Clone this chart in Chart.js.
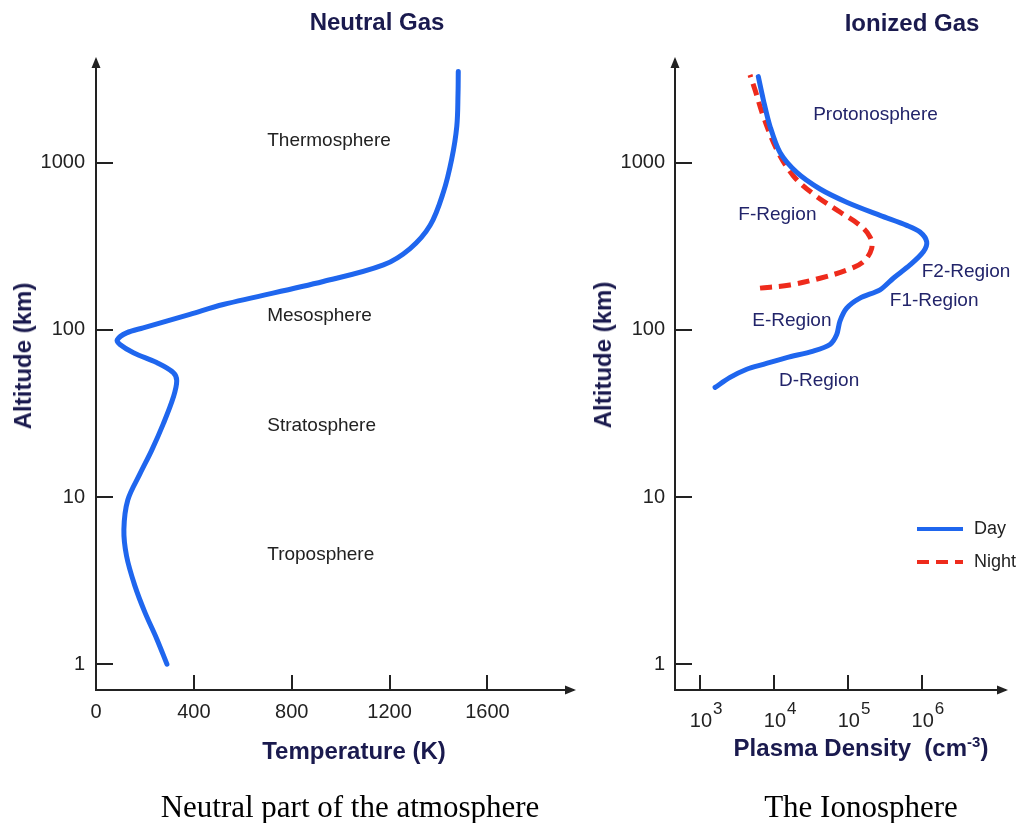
<!DOCTYPE html>
<html>
<head>
<meta charset="utf-8">
<title>Neutral Gas and Ionized Gas profiles</title>
<script src="https://cdn.jsdelivr.net/npm/chart.js@4.4.1/dist/chart.umd.min.js"></script>
<style>
  html, body { margin: 0; padding: 0; background: #fff; }
  #wrap { position: relative; width: 1020px; height: 823px; overflow: hidden; background: #fff; }
  canvas { position: absolute; top: 0; }
  .head { position: absolute; white-space: nowrap; font-family: "Liberation Sans", Arial, sans-serif;
          font-weight: bold; font-size: 24px; line-height: 1; color: #1a1a4e;
          transform: translate(-50%, -50%); }
  .head.rot { transform: translate(-50%, -50%) rotate(-90deg); }
  .head sup { font-size: 15px; vertical-align: 9px; line-height: 0; }
  .cap { position: absolute; white-space: nowrap; font-family: "Liberation Serif", "Times New Roman", serif;
         font-size: 31px; line-height: 1; color: #000; transform: translate(-50%, -50%); }
</style>
</head>
<body>
<div id="wrap">
  <canvas id="neutral" width="580" height="823" style="left:0"></canvas>
  <canvas id="ionized" width="440" height="823" style="left:580px"></canvas>

  <div class="head" style="left:377px; top:22px">Neutral Gas</div>
  <div class="head" style="left:912px; top:23px">Ionized Gas</div>
  <div class="head rot" style="left:23px; top:356px">Altitude (km)</div>
  <div class="head rot" style="left:603px; top:355px">Altitude (km)</div>
  <div class="head" style="left:354px; top:751px">Temperature (K)</div>
  <div class="head" style="left:861px; top:748px">Plasma Density&nbsp;&nbsp;(cm<sup>-3</sup>)</div>

  <div class="cap" style="left:350px; top:806px">Neutral part of the atmosphere</div>
  <div class="cap" style="left:861px; top:806px">The Ionosphere</div>
</div>

<script>
// ---- Tick values --------------------------------------------------------
const altitudeTicks = [1, 10, 100, 1000];
const temperatureTicks = [0, 400, 800, 1200, 1600];
const densityTicks = [1e3, 1e4, 1e5, 1e6];

// ---- Neutral atmosphere: temperature profile -----------------------------
const neutralAltitudeKm = [1.0, 1.42, 2.04, 2.94, 4.43, 6.39, 9.6, 13.8, 19.1,
  27.4, 39.5, 49.7, 55.6, 63.8, 73.1, 81.9, 87.4, 96.1, 103,
  124, 142, 195, 245, 307, 423, 667, 1052, 1659, 2620, 3518];
const neutralTemperatureK = [290, 248, 200, 159, 125, 114, 130, 180, 228,
  275, 316, 330, 316, 248, 153, 98, 87, 125, 193,
  384, 520, 929, 1175, 1284, 1366, 1420, 1454, 1475, 1480, 1481];

// ---- Ionosphere: plasma density profiles (cm^-3) -------------------------
const dayAltitudeKm = [45.3, 52.0, 58.2, 62.3, 68.3, 74.8, 81.9, 93.9, 113, 135,
  155, 174, 204, 245, 294, 337, 386, 423, 485, 582,
  698, 877, 1153, 1659, 2389, 3286];
const dayDensity = [1600, 2550, 4290, 7190, 14900, 34100, 57400, 70800, 78300, 96600,
  146000, 273000, 413000, 695000, 1052000, 1169000, 948000, 627000, 273000, 96600,
  42100, 20400, 12100, 8850, 7190, 6150];

const nightAltitudeKm = [178, 186, 204, 228, 256, 307, 360, 423, 508, 652,
  837, 1206, 1901, 2739, 3363];
const nightDensity = [6490, 16500, 42100, 96600, 162000, 210000, 200000, 146000, 78300, 34100,
  18300, 10900, 7190, 5550, 4750];

// ---- Region names, anchored in data coordinates --------------------------
const neutralRegions = [
  { text: 'Thermosphere', x: 700, y: 1364 },
  { text: 'Mesosphere',   x: 700, y: 121 },
  { text: 'Stratosphere', x: 700, y: 26.6 },
  { text: 'Troposphere',  x: 700, y: 4.49 }
];
const ionRegions = [
  { text: 'Protonosphere', x: 3.4e4, y: 1946 },
  { text: 'F-Region',      x: 3.3e3, y: 489 },
  { text: 'F2-Region',     x: 1.0e6, y: 224 },
  { text: 'F1-Region',     x: 3.7e5, y: 149 },
  { text: 'E-Region',      x: 5.1e3, y: 113 },
  { text: 'D-Region',      x: 1.17e4, y: 49.9 }
];

// ---- Shared styling ------------------------------------------------------
const SANS = '"Liberation Sans", Arial, sans-serif';
const AXIS = '#222222';
const BLUE = '#1f66ee';
const RED = '#ee2b1c';
const ALT_MIN = 0.7494, ALT_MAX = 4129;

const pts = (xs, ys) => xs.map((x, i) => ({ x, y: ys[i] }));

// Axis decorations: inward tick marks, arrowheads, region names, legend
const decor = {
  id: 'decor',
  afterDraw(chart, args, o) {
    const { ctx, chartArea: a, scales } = chart;
    const sx = scales.x, sy = scales.y;
    ctx.save();
    ctx.strokeStyle = AXIS;
    ctx.fillStyle = AXIS;
    ctx.lineWidth = 2;

    o.xMarks.forEach(v => {
      const px = Math.round(sx.getPixelForValue(v));
      ctx.beginPath(); ctx.moveTo(px, a.bottom); ctx.lineTo(px, a.bottom - 15); ctx.stroke();
    });
    o.yMarks.forEach(v => {
      const py = Math.round(sy.getPixelForValue(v));
      ctx.beginPath(); ctx.moveTo(a.left, py); ctx.lineTo(a.left + 17, py); ctx.stroke();
    });

    // arrowheads at the ends of both axes
    ctx.beginPath();
    ctx.moveTo(a.left, a.top - 3); ctx.lineTo(a.left - 4.5, a.top + 8); ctx.lineTo(a.left + 4.5, a.top + 8);
    ctx.closePath(); ctx.fill();
    ctx.beginPath();
    ctx.moveTo(a.right + 3, a.bottom); ctx.lineTo(a.right - 8, a.bottom - 4.5); ctx.lineTo(a.right - 8, a.bottom + 4.5);
    ctx.closePath(); ctx.fill();

    // region names
    ctx.font = '19px ' + SANS;
    ctx.textAlign = 'left';
    ctx.textBaseline = 'middle';
    ctx.fillStyle = o.labelColor;
    o.regions.forEach(r => ctx.fillText(r.text, sx.getPixelForValue(r.x), sy.getPixelForValue(r.y)));

    // powers of ten under the density axis
    if (o.powerLabels) {
      ctx.fillStyle = AXIS;
      o.xMarks.forEach(v => {
        const px = sx.getPixelForValue(v);
        ctx.font = '20px ' + SANS;
        ctx.textAlign = 'center';
        ctx.fillText('10', px + 1, a.bottom + 31);
        const w = ctx.measureText('10').width;
        ctx.font = '17px ' + SANS;
        ctx.textAlign = 'left';
        ctx.fillText(String(Math.round(Math.log10(v))), px + 1 + w / 2 + 1, a.bottom + 19);
      });
    }

    // legend
    if (o.legend) {
      const L = o.legend;
      chart.data.datasets.forEach((ds, i) => {
        const y = L.y + i * L.step;
        ctx.strokeStyle = ds.borderColor;
        ctx.lineWidth = 4;
        ctx.setLineDash(ds.borderDash || []);
        ctx.beginPath(); ctx.moveTo(L.x, y); ctx.lineTo(L.x + 46, y); ctx.stroke();
        ctx.setLineDash([]);
        ctx.fillStyle = AXIS;
        ctx.font = '18px ' + SANS;
        ctx.textAlign = 'left';
        ctx.fillText(ds.label, L.x + 57, y);
      });
    }
    ctx.restore();
  }
};

const altitudeAxis = (width, pad) => ({
  type: 'logarithmic',
  min: ALT_MIN,
  max: ALT_MAX,
  afterBuildTicks: s => { s.ticks = altitudeTicks.map(v => ({ value: v })); },
  afterFit: s => { s.width = width; },
  grid: { display: false, drawTicks: false },
  border: { display: true, color: AXIS, width: 2 },
  ticks: { color: AXIS, font: { family: SANS, size: 20 }, padding: pad, autoSkip: false,
           callback: v => String(v) }
});

const baseOptions = {
  responsive: false,
  animation: false,
  events: [],
  plugins: { legend: { display: false }, tooltip: { enabled: false } }
};

new Chart(document.getElementById('neutral'), {
  type: 'scatter',
  data: {
    datasets: [{
      label: 'Temperature',
      data: pts(neutralTemperatureK, neutralAltitudeKm),
      showLine: true,
      borderColor: BLUE,
      borderWidth: 5,
      pointRadius: 0,
      tension: 0.35,
      borderCapStyle: 'round',
      borderJoinStyle: 'round'
    }]
  },
  options: {
    ...baseOptions,
    layout: { padding: { top: 60, right: 7, bottom: 0, left: 0 } },
    scales: {
      x: {
        type: 'linear',
        min: 0,
        max: 1950,
        afterBuildTicks: s => { s.ticks = temperatureTicks.map(v => ({ value: v })); },
        afterFit: s => { s.height = 823 - 690; },
        grid: { display: false, drawTicks: false },
        border: { display: true, color: AXIS, width: 2 },
        ticks: { color: AXIS, font: { family: SANS, size: 20 }, padding: 10, maxRotation: 0,
                 autoSkip: false, callback: v => String(v) }
      },
      y: altitudeAxis(96, 11)
    },
    plugins: {
      ...baseOptions.plugins,
      decor: { xMarks: temperatureTicks.slice(1), yMarks: altitudeTicks,
               regions: neutralRegions, labelColor: AXIS }
    }
  },
  plugins: [decor]
});

new Chart(document.getElementById('ionized'), {
  type: 'scatter',
  data: {
    datasets: [{
      label: 'Day',
      data: pts(dayDensity, dayAltitudeKm),
      showLine: true,
      borderColor: BLUE,
      borderWidth: 5,
      pointRadius: 0,
      tension: 0.3,
      borderCapStyle: 'round',
      borderJoinStyle: 'round'
    }, {
      label: 'Night',
      data: pts(nightDensity, nightAltitudeKm),
      showLine: true,
      borderColor: RED,
      borderWidth: 5,
      borderDash: [12, 7],
      pointRadius: 0,
      tension: 0.35
    }]
  },
  options: {
    ...baseOptions,
    layout: { padding: { top: 60, right: 15, bottom: 0, left: 0 } },
    scales: {
      x: {
        type: 'logarithmic',
        min: 459.0,
        max: 1.340e7,
        afterBuildTicks: s => { s.ticks = densityTicks.map(v => ({ value: v })); },
        afterFit: s => { s.height = 823 - 690; },
        grid: { display: false, drawTicks: false },
        border: { display: true, color: AXIS, width: 2 },
        ticks: { display: false }
      },
      y: altitudeAxis(95, 10)
    },
    plugins: {
      ...baseOptions.plugins,
      decor: { xMarks: densityTicks, yMarks: altitudeTicks, regions: ionRegions,
               labelColor: '#22246a', powerLabels: true,
               legend: { x: 337, y: 529, step: 33 } }
    }
  },
  plugins: [decor]
});
</script>
</body>
</html>
